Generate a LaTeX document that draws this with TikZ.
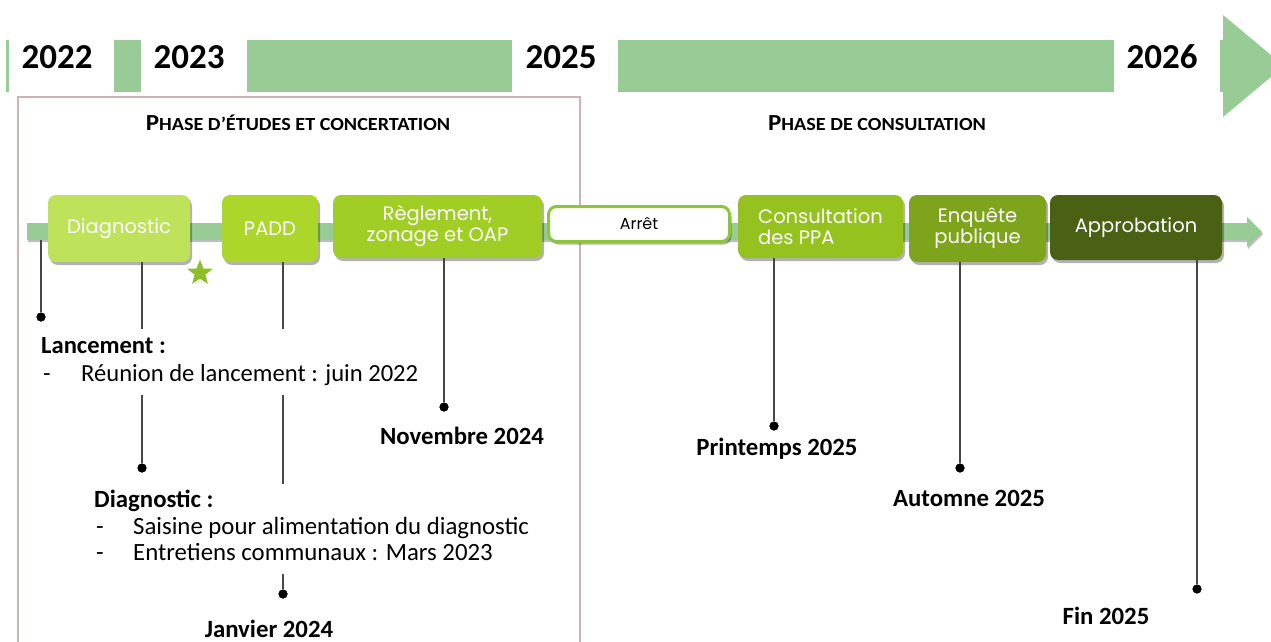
\documentclass[tikz,border=0pt]{standalone}
\usepackage{fontspec}
\setmainfont{Carlito}
\newfontfamily\boxfont{Poppins}
\usetikzlibrary{shapes.geometric,shadows}
\definecolor{band}{RGB}{152,203,150}
\definecolor{cDiag}{RGB}{190,226,90}
\definecolor{cPadd}{RGB}{172,214,42}
\definecolor{cRegl}{RGB}{160,206,36}
\definecolor{cCons}{RGB}{150,194,32}
\definecolor{cEnq}{RGB}{126,164,28}
\definecolor{cAppr}{RGB}{74,96,18}
\definecolor{cArret}{RGB}{140,196,60}
\definecolor{starg}{RGB}{140,190,40}
\definecolor{phaseborder}{RGB}{205,180,180}
\definecolor{vgray}{RGB}{70,70,70}
\newcommand{\fsz}[2]{\fontsize{#1}{#2}\selectfont}
\newcommand{\phaselbl}[1]{\scalebox{1.09}[1]{{\fsz{23}{23}P}{\fsz{18.5}{23}#1}}}
\begin{document}
\begin{tikzpicture}[x=1pt,y=-1pt,
  year/.style={font=\fsz{35}{35}\bfseries, inner sep=0pt},
  phase/.style={font=\bfseries, inner sep=0pt},
  stepbox/.style={rounded corners=8pt, inner sep=2pt, align=center,
    text=white, font=\boxfont\fsz{19.5}{21},
    drop shadow={shadow xshift=2pt, shadow yshift=-3pt, opacity=0.3, fill=black}},
  vline/.style={draw=vgray, line width=1.6pt},
  dotn/.style={circle, fill=black, inner sep=0pt, minimum size=9pt},
  date/.style={font=\fsz{24.8}{24.8}\bfseries, inner sep=0pt},
  body/.style={fill=white, inner xsep=3pt, inner ysep=5pt, align=left, anchor=north west}
]
\useasboundingbox (0,0) rectangle (1271,642);

% top year band
\fill[band] (6,40) rectangle (9,92);
\fill[band] (114,40) rectangle (141,92);
\fill[band] (247,40) rectangle (512,92);
\fill[band] (618,40) rectangle (1114,92);
\fill[band] (1220,40) -- (1223,40) -- (1223,15) -- (1284,66) -- (1223,117) -- (1223,92) -- (1220,92) -- cycle;
\node[year] (y2022) at (57,57) {2022};
\node[year] (y2023) at (189,57) {2023};
\node[year] (y2025) at (561,57) {2025};
\node[year] (y2026) at (1162,57) {2026};

% phase box
\draw[phaseborder, line width=1.4pt] (18,660) -- (18,97) -- (580,97) -- (580,660);
\node[phase] (ph1) at (298,123) {\phaselbl{HASE D’ÉTUDES ET CONCERTATION}};
\node[phase] (ph2) at (877,123) {\phaselbl{HASE DE CONSULTATION}};

% timeline bar
\fill[band, drop shadow={shadow xshift=1pt, shadow yshift=-2pt, opacity=0.25, fill=black}]
  (27,223) -- (1247,223) -- (1247,217) -- (1262,232) -- (1247,247) -- (1247,240) -- (27,240) -- cycle;
\coordinate (barA) at (41,240);

% dots
\node[dotn] (d1) at (41,317) {};
\node[dotn] (d2) at (142,468) {};
\node[dotn] (d3) at (283,594) {};
\node[dotn] (d4) at (444,407) {};
\node[dotn] (d5) at (774,426) {};
\node[dotn] (d6) at (960,468) {};
\node[dotn] (d7) at (1197,589) {};

% boxes
\node[stepbox, fill=cDiag, minimum width=142pt, minimum height=67pt] (diag) at (119,228.5) {Diagnostic};
\node[stepbox, fill=cPadd, minimum width=96pt, minimum height=67pt] (padd) at (270,228.5) {PADD};
\node[stepbox, fill=cRegl, minimum width=209pt, minimum height=63pt] (regl) at (437.5,226.5) {Règlement,\\zonage et OAP};
\node[stepbox, fill=white, draw=cArret, line width=3pt, text=black, font=\boxfont\fsz{16}{18}, minimum width=181pt, minimum height=35pt, drop shadow={opacity=0}] (arret) at (639,224) {Arrêt};
\node[stepbox, fill=cCons, minimum width=165pt, minimum height=63pt, align=left] (cons) at (820.5,226.5) {Consultation\\des PPA};
\node[stepbox, fill=cEnq, minimum width=137pt, minimum height=67pt] (enq) at (977.5,228.5) {Enquête\\publique};
\node[stepbox, fill=cAppr, minimum width=172pt, minimum height=65pt] (appr) at (1136,227.5) {Approbation};

% star
\node[star, star points=5, star point ratio=2.4, fill=starg, minimum size=27pt, inner sep=0pt] (star) at (200,273) {};

% vertical connectors
\draw[vline] (barA) -- (d1);
\draw[vline] (d2 |- diag.south) -- (d2);
\draw[vline] (d3 |- padd.south) -- (d3);
\draw[vline] (d4 |- regl.south) -- (d4);
\draw[vline] (d5 |- cons.south) -- (d5);
\draw[vline] (d6 |- enq.south) -- (d6);
\draw[vline] (d7 |- appr.south) -- (d7);
\foreach \d in {d1,d2,d3,d4,d5,d6,d7} \fill (\d) circle (4.5pt);

% text blocks
\node[body, font=\fsz{24.6}{28}] (lanc) at (38,329) {\begin{tabular}{@{}p{40pt}@{}l@{}}
\multicolumn{2}{@{}l}{\bfseries Lancement :}\\
\hspace{2pt}- & Réunion de lancement : juin 2022
\end{tabular}};
\node[body, font=\fsz{24.8}{26.5}] (diagtxt) at (91,484) {\begin{tabular}{@{}p{39pt}@{}l@{}}
\multicolumn{2}{@{}l}{\bfseries Diagnostic :}\\
\hspace{2pt}- & Saisine pour alimentation du diagnostic\\
\hspace{2pt}- & Entretiens communaux : Mars 2023
\end{tabular}};

\node[date] (nov) at (462,436) {Novembre 2024};
\node[date] (jan) at (269,629) {Janvier 2024};
\node[date] (print) at (777,449) {Printemps 2025};
\node[date] (aut) at (969,498) {Automne 2025};
\node[date] (fin) at (1106,616) {Fin 2025};
\end{tikzpicture}
\end{document}
